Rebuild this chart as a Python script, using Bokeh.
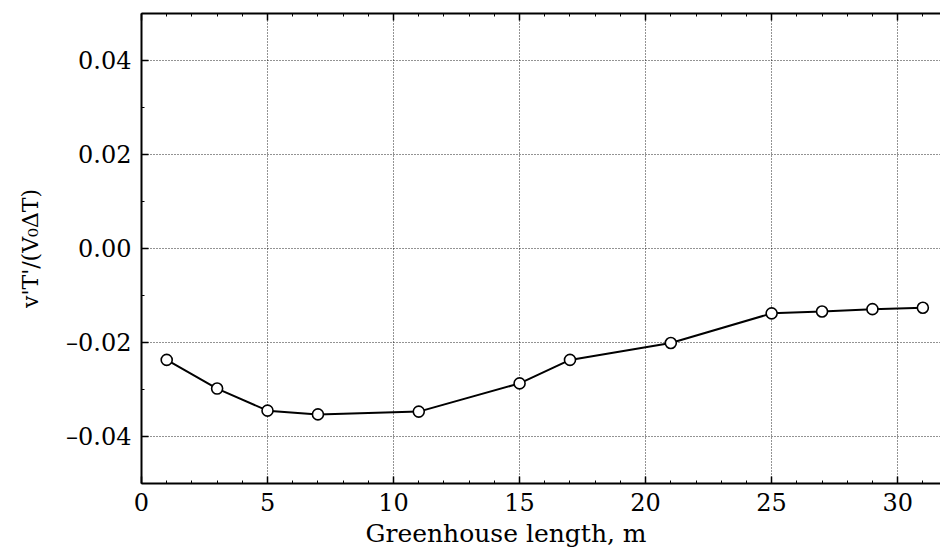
from bokeh.plotting import figure
from bokeh.models import (LinearAxis, SingleIntervalTicker, CustomJSTickFormatter, Grid, Title,
                          CustomLabelingPolicy)
from bokeh.embed import file_html
from bokeh.resources import INLINE

# data
length_m = [1, 3, 5, 7, 11, 15, 17, 21, 25, 27, 29, 31]
flux = [-0.0237, -0.0298, -0.0345, -0.0353, -0.0347, -0.0287, -0.0237,
        -0.0201, -0.0138, -0.0134, -0.0129, -0.0126]

x_label = "Greenhouse length, m"
y_label = "v'T'/(V\u2080\u0394T)"
FONT = "DejaVu Serif"

p = figure(width=940, height=556, x_range=(0, 31.7), y_range=(-0.05, 0.05),
           output_backend="svg", toolbar_location=None,
           min_border_left=141, min_border_right=0, min_border_top=13,
           min_border_bottom=73, x_axis_type=None, y_axis_type=None)
p.outline_line_color = None
p.background_fill_color = "white"
p.border_fill_color = "white"

xt = SingleIntervalTicker(interval=5, num_minor_ticks=5)
yt = SingleIntervalTicker(interval=0.02, num_minor_ticks=2)

fmt_y = CustomJSTickFormatter(code="""
const s = Math.abs(tick).toFixed(2);
return (tick < -1e-9 ? '\\u2013' : '') + s;
""")

def style(ax, labels=True):
    ax.axis_line_width = 2
    ax.axis_line_color = "black"
    ax.major_tick_in = 7
    ax.major_tick_out = 0
    ax.minor_tick_in = 3
    ax.minor_tick_out = 0
    ax.major_tick_line_width = 1.5
    ax.major_tick_line_color = "black"
    ax.minor_tick_line_color = "black"
    ax.major_label_text_font = FONT
    ax.major_label_text_color = "black"
    ax.major_label_text_font_size = "24px"
    ax.major_label_standoff = 10
    if not labels:
        ax.major_label_standoff = 0
        ax.major_label_text_font_size = "1px"
        ax.major_label_policy = CustomLabelingPolicy(code="return new Set()")

xb = LinearAxis(ticker=xt)
style(xb)
xb.major_label_standoff = 9
p.add_layout(xb, "below")

yl = LinearAxis(ticker=yt, formatter=fmt_y, axis_label=y_label)
style(yl)
yl.axis_label_text_font = FONT
yl.axis_label_text_font_size = "22px"
yl.axis_label_text_font_style = "normal"
yl.axis_label_text_color = "black"
yl.axis_label_standoff = 20
p.add_layout(yl, "left")

xa = LinearAxis(ticker=xt)
style(xa, labels=False)
p.add_layout(xa, "above")

for dim, tk in ((0, xt), (1, yt)):
    g = Grid(dimension=dim, ticker=tk, grid_line_color="black",
             grid_line_dash="1 2", grid_line_width=1, grid_line_alpha=0.85)
    p.add_layout(g, "center")

p.line(length_m, flux, line_color="black", line_width=2)
p.scatter(length_m, flux, marker="circle", size=11, fill_color="white",
          line_color="black", line_width=1.6)

p.add_layout(Title(text=x_label, text_font=FONT, text_font_size="25px",
                   text_font_style="normal", text_color="black",
                   align="left", offset=224, standoff=6), "below")

open("out.html", "w").write(file_html(p, INLINE))
